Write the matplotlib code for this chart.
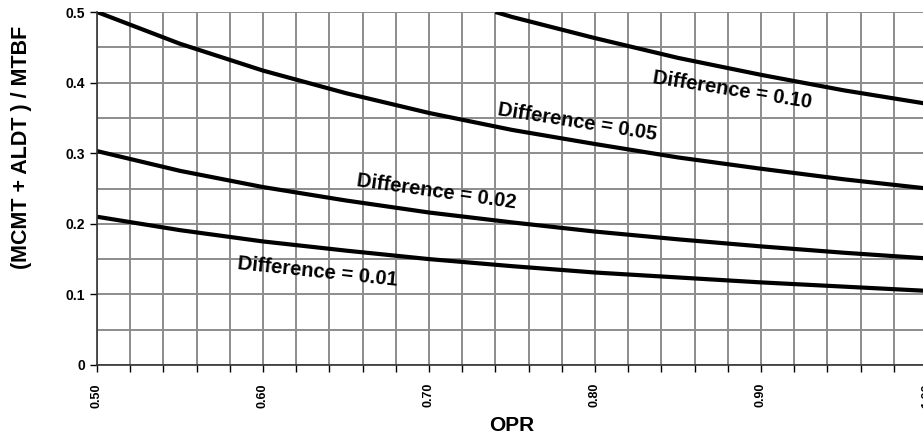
import numpy as np
import matplotlib
matplotlib.use("Agg")
import matplotlib.pyplot as plt

plt.rcParams["font.family"] = ["Liberation Sans", "DejaVu Sans"]

# values
opr = [0.50, 0.55, 0.60, 0.65, 0.70, 0.75, 0.80, 0.85, 0.90, 0.95, 1.00]
diff_001 = [0.210, 0.191, 0.175, 0.162, 0.150, 0.140, 0.131, 0.124, 0.117, 0.111, 0.105]
diff_002 = [0.303, 0.275, 0.252, 0.233, 0.216, 0.202, 0.189, 0.178, 0.168, 0.159, 0.151]
diff_005 = [0.500, 0.455, 0.417, 0.385, 0.357, 0.333, 0.313, 0.294, 0.278, 0.263, 0.250]
opr_010 = [0.74, 0.75, 0.80, 0.85, 0.90, 0.95, 1.00]
diff_010 = [0.500, 0.493, 0.463, 0.435, 0.411, 0.389, 0.370]

labels = ["Difference = 0.01", "Difference = 0.02", "Difference = 0.05", "Difference = 0.10"]
x_ticks = [0.50, 0.60, 0.70, 0.80, 0.90, 1.00]
x_tick_labels = ["0.50", "0.60", "0.70", "0.80", "0.90", "1.00"]
y_ticks = [0, 0.1, 0.2, 0.3, 0.4, 0.5]
y_tick_labels = ["0", "0.1", "0.2", "0.3", "0.4", "0.5"]

fig = plt.figure(figsize=(9.23, 4.38), dpi=100)
ax = fig.add_axes([97 / 923, 73 / 438, 830 / 923, 353 / 438])

ax.set_xlim(0.5, 1.0)
ax.set_ylim(0, 0.5)

# grid
ax.set_xticks(np.arange(0.5, 1.001, 0.02), minor=True)
ax.set_yticks(np.arange(0, 0.501, 0.05), minor=True)
ax.grid(which="both", color="#8c8c8c", linewidth=1.4)
ax.set_axisbelow(True)

for xs, ys in [(opr, diff_001), (opr, diff_002), (opr, diff_005), (opr_010, diff_010)]:
    ax.plot(xs, ys, color="black", linewidth=3.0, solid_capstyle="butt")

# curve labels
label_pos = [(0.6330, 0.132, -6), (0.7045, 0.245, -8), (0.7893, 0.344, -9), (0.8825, 0.390, -9)]
for text, (lx, ly, rot) in zip(labels, label_pos):
    ax.text(lx, ly, text, fontsize=14.5, fontweight="bold", rotation=rot,
            ha="center", va="center", rotation_mode="anchor")

ax.set_xticks(x_ticks)
ax.set_xticklabels(x_tick_labels, rotation=90, fontsize=9, fontweight="bold")
ax.set_yticks(y_ticks)
ax.set_yticklabels(y_tick_labels, fontsize=10, fontweight="bold")
ax.tick_params(which="both", direction="out", length=5, width=1, color="black")
ax.tick_params(axis="x", which="both", pad=8)
ax.tick_params(axis="y", which="minor", length=0)

for side in ["top", "right"]:
    ax.spines[side].set_visible(False)
for side in ["left", "bottom"]:
    ax.spines[side].set_color("#333333")
    ax.spines[side].set_linewidth(1.2)

ax.set_xlabel("OPR", fontsize=15, fontweight="bold", labelpad=6)
fig.text(22 / 923, 1 - 147 / 438, "(MCMT + ALDT ) / MTBF", fontsize=15.5, fontweight="bold",
         rotation=90, ha="center", va="center")

fig.savefig("out.png", dpi=100)
